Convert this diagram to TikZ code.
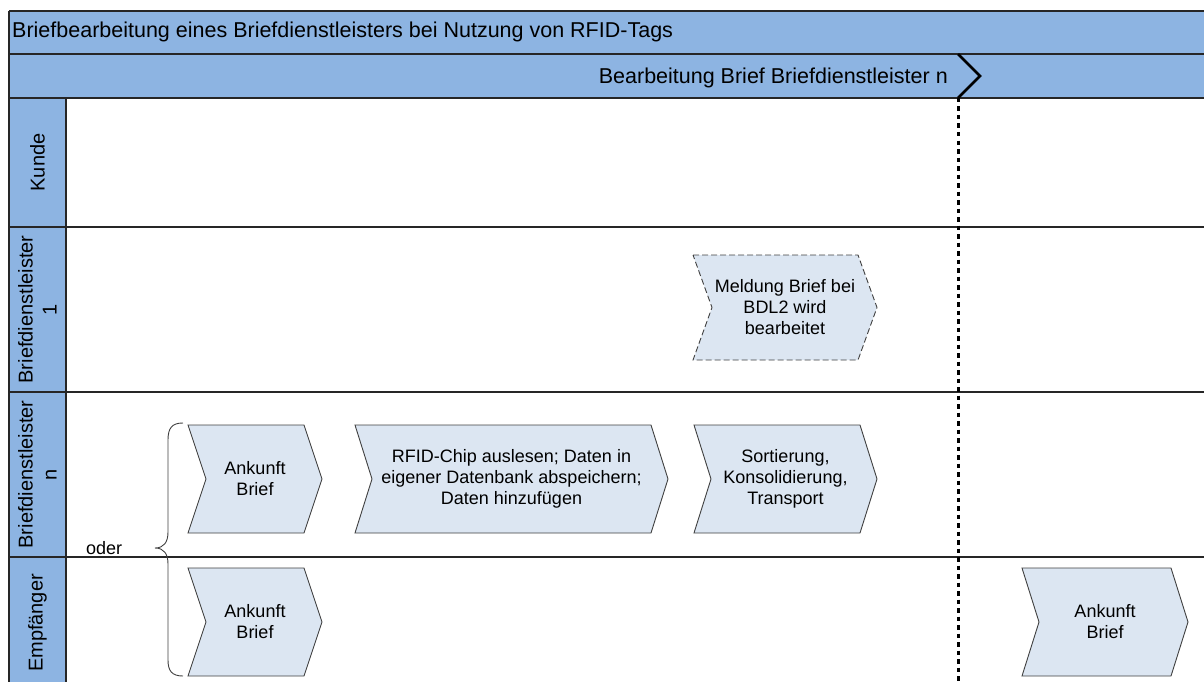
\documentclass[tikz,border=0pt]{standalone}
\usepackage{fontspec}
\setmainfont{Liberation Sans}
\definecolor{hdr}{RGB}{141,180,226}
\definecolor{chevfill}{RGB}{220,230,242}
\definecolor{lanel}{RGB}{38,38,38}
\definecolor{chevline}{RGB}{64,64,64}
\tikzset{
  lane/.style={draw=lanel, line width=1.3pt},
  chevshape/.style={fill=chevfill, draw=chevline, line width=0.9pt, line join=miter},
  chevdashed/.style={chevshape, dash pattern=on 6pt off 3pt},
  chevtext/.style={font=\fontsize{18}{21}\selectfont, align=center, inner sep=0pt},
  lanetext/.style={font=\fontsize{20}{24}\selectfont, align=center, rotate=90, inner sep=0pt},
  titletext/.style={font=\fontsize{21.5}{25}\selectfont, inner sep=0pt},
  milestone/.style={draw=black, line width=3pt, dash pattern=on 4.5pt off 4pt},
  mileshead/.style={draw=black, line width=2.5pt, line join=miter},
  bracestyle/.style={draw=chevline, line width=0.9pt},
}
\newcommand\mychev[8]{%
  \path[#7] (#2,#4) -- ({#3-#6},#4) -- (#3,{(#4+#5)/2}) -- ({#3-#6},#5) -- (#2,#5) -- ({#2+#6},{(#4+#5)/2}) -- cycle;
  \node[chevtext] (#1) at ({(#2+#3)/2},{(#4+#5)/2}) {#8};
}
\begin{document}
\begin{tikzpicture}[x=1pt,y=-1pt]
\useasboundingbox (0,0) rectangle (1204,682);
\clip (0,0) rectangle (1204,682);
% header bars and label column
\fill[hdr] (9,11) rectangle (1215,98);
\fill[hdr] (9,98) rectangle (66,695);
% lines
\draw[lane] (9,11) -- (1215,11);
\draw[lane] (9,54) -- (1215,54);
\draw[lane] (9,98) -- (1215,98);
\draw[lane] (9,227) -- (1215,227);
\draw[lane] (9,392) -- (1215,392);
\draw[lane] (9,557) -- (1215,557);
\draw[lane] (9,11) -- (9,695);
\draw[lane] (66,98) -- (66,695);
% texts of header
\node[titletext, anchor=base west] (title) at (12,37.5) {Briefbearbeitung eines Briefdienstleisters bei Nutzung von RFID-Tags};
\node[titletext, anchor=base east] (phase) at (948,83.5) {Bearbeitung Brief Briefdienstleister n};
% milestone
\coordinate (mtop) at (958,54);
\coordinate (mtip) at (980,76);
\coordinate (mbot) at (958,98);
\coordinate (mend) at (958,695);
\draw[mileshead] (mtop) -- (mtip) -- (mbot);
\draw[milestone] (mbot) -- (mend);
% lane labels
\node[lanetext] (kunde) at (37.5,162.5) {Kunde};
\node[lanetext] (bdl1) at (37.5,309.5) {Briefdienstleister\\1};
\node[lanetext] (bdln) at (37.5,474.5) {Briefdienstleister\\n};
\node[lanetext] (empf) at (37.5,623) {Empfänger};
% chevrons
\mychev{meld}{693}{877}{255}{360}{19}{chevdashed}{Meldung Brief bei\\BDL2 wird\\bearbeitet}
\mychev{ank1}{188}{322}{425}{533}{18}{chevshape}{Ankunft\\Brief}
\mychev{rfid}{355}{668}{425}{533}{17}{chevshape}{RFID-Chip auslesen; Daten in\\eigener Datenbank abspeichern;\\Daten hinzufügen}
\mychev{sort}{694}{877}{425}{533}{17}{chevshape}{Sortierung,\\Konsolidierung,\\Transport}
\mychev{ank2}{188}{322}{568}{676}{18}{chevshape}{Ankunft\\Brief}
\mychev{ank3}{1022}{1188}{568}{676}{17}{chevshape}{Ankunft\\Brief}
% brace and oder
\draw[bracestyle] (183,423) .. controls (172,423) and (168,428) .. (168,440) -- (168,532) .. controls (168,542) and (164,548) .. (155,548) .. controls (164,548) and (168,554) .. (168,564) -- (168,660) .. controls (168,671) and (172,676) .. (183,676);
\node[chevtext, anchor=base west] (oder) at (86,554.5) {oder};
\end{tikzpicture}
\end{document}
